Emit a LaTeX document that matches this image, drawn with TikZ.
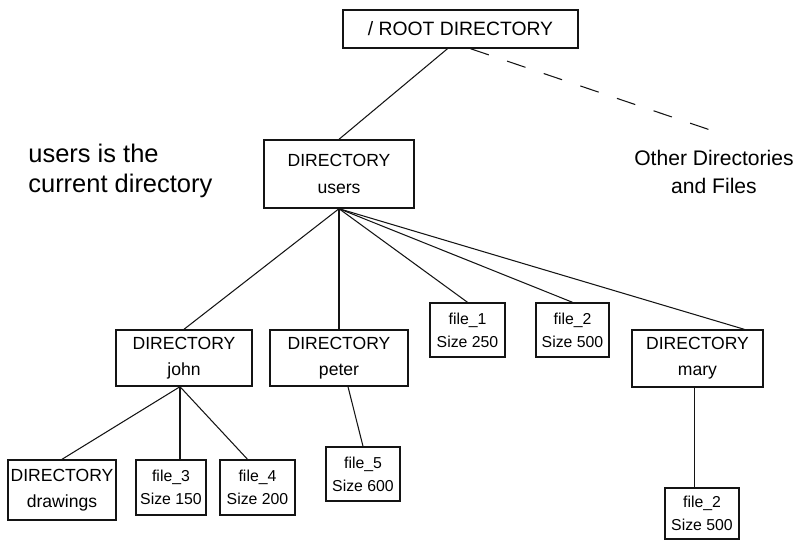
\documentclass[tikz,border=0pt]{standalone}
\usepackage{fontspec}
\setmainfont{Liberation Sans}
\usepackage{tikz}
\usetikzlibrary{positioning, calc}
\definecolor{mydark}{RGB}{20,20,20}
\tikzset{
  dirbox/.style={rectangle, draw=mydark, align=center, inner sep=1pt,
    font=\fontsize{10}{15}\selectfont, line width=0.8pt},
  filebox/.style={rectangle, draw=mydark, align=center, inner sep=1pt,
    font=\fontsize{9}{13}\selectfont, line width=0.8pt},
  note/.style={font=\fontsize{14.5}{17}\selectfont, inner sep=0pt},
  line/.style={line width=0.6pt, color=mydark},
  dashline/.style={line width=0.6pt, color=mydark, dash pattern=on 11pt off 11pt}
}
\begin{document}
\begin{tikzpicture}[x=0.02cm, y=-0.02cm]
  \useasboundingbox (0,0) rectangle (797,540);

  \node[dirbox, minimum width=235*0.02cm, minimum height=38*0.02cm, font=\fontsize{11}{13}\selectfont] (root) at (460.5,29) {/ ROOT DIRECTORY};
  \node[dirbox, minimum width=150*0.02cm, minimum height=68*0.02cm] (users) at (339,174) {DIRECTORY\\users};

  \node[dirbox, minimum width=136*0.02cm, minimum height=56*0.02cm] (john) at (184,358) {DIRECTORY\\john};
  \node[dirbox, minimum width=138*0.02cm, minimum height=56*0.02cm] (peter) at (339,358) {DIRECTORY\\peter};
  \node[filebox, minimum width=75*0.02cm, minimum height=54*0.02cm] (fileone) at (467.5,330) {file\_1\\Size 250};
  \node[filebox, minimum width=73*0.02cm, minimum height=54*0.02cm] (filetwo) at (572.5,330) {file\_2\\Size 500};
  \node[dirbox, minimum width=131*0.02cm, minimum height=57*0.02cm] (mary) at (697.5,358.5) {DIRECTORY\\mary};

  \node[dirbox, minimum width=108*0.02cm, minimum height=60*0.02cm] (drawings) at (62,490) {DIRECTORY\\drawings};
  \node[filebox, minimum width=70*0.02cm, minimum height=55*0.02cm] (filethree) at (171,487.5) {file\_3\\Size 150};
  \node[filebox, minimum width=75*0.02cm, minimum height=55*0.02cm] (filefour) at (257.5,487.5) {file\_4\\Size 200};
  \node[filebox, minimum width=74*0.02cm, minimum height=54*0.02cm] (filefive) at (363,474) {file\_5\\Size 600};
  \node[filebox, minimum width=74*0.02cm, minimum height=51*0.02cm] (filetwob) at (702,513.5) {file\_2\\Size 500};

  \node[note, anchor=north west, align=left] (current) at (28,144) {users is the\\current directory};
  \node[note, align=center, font=\fontsize{12}{16}\selectfont] (others) at (714,172) {Other Directories\\and Files};
  \coordinate (odash) at (725,135);

  % tree lines
  \draw[line] ($(root.south)+(-13,0)$) -- (users.north);
  \draw[dashline] ($(root.south)+(10,0)$) -- (odash);

  \draw[line] (users.south) -- (john.north);
  \draw[line] (users.south) -- (peter.north);
  \draw[line] (users.south) -- (fileone.north);
  \draw[line] (users.south) -- (filetwo.north);
  \draw[line] (users.south) -- (mary.32);

  \coordinate (jb) at ($(john.south)+(-4,0)$);
  \draw[line] (jb) -- (drawings.north);
  \draw[line] (jb) -- (jb |- filethree.north);
  \draw[line] (jb) -- ($(filefour.north)+(-10,0)$);

  \draw[line] ($(peter.south)+(9,0)$) -- (filefive.north);
  \coordinate (mb) at ($(mary.south)+(-3,0)$);
  \draw[line] (mb) -- (mb |- filetwob.north);
\end{tikzpicture}
\end{document}
